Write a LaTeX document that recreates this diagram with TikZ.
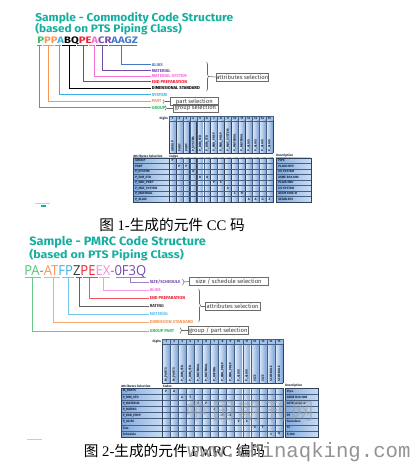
\documentclass[tikz,border=0pt]{standalone}
\usepackage{fontspec}
\setmainfont{Liberation Serif}
\newfontfamily\ttlfont{Fira Sans}
\newfontfamily\codetwofont{Open Sans}
\newfontfamily\cjk{Noto Sans CJK SC}
\newfontfamily\wmfont{Liberation Mono}
\usetikzlibrary{decorations.pathreplacing}
\definecolor{cteal}{RGB}{22,174,160}
\definecolor{cgreen}{RGB}{52,185,100}
\definecolor{corange}{RGB}{245,150,85}
\definecolor{clblue}{RGB}{60,175,230}
\definecolor{cred}{RGB}{238,30,50}
\definecolor{cpink}{RGB}{245,110,215}
\definecolor{cpurple}{RGB}{115,75,175}
\definecolor{cblue}{RGB}{70,120,200}
\definecolor{cdark}{RGB}{60,60,60}
\definecolor{cL}{RGB}{228,238,250}
\definecolor{cR}{RGB}{118,160,215}
\definecolor{rL}{RGB}{130,170,222}
\definecolor{rR}{RGB}{200,220,243}
\definecolor{hdr}{RGB}{160,195,235}
\definecolor{gridc}{RGB}{70,95,130}
\definecolor{tabtxt}{RGB}{25,40,65}
\newcommand\mylabfont{\fontsize{3.2}{3.6}\selectfont\ttlfont\bfseries}
\newcommand\myboxfont{\fontsize{4.4}{5}\selectfont\ttlfont}
\newcommand\mytabfont{\fontsize{2.4}{2.8}\selectfont\ttlfont\bfseries}
\begin{document}
\begin{tikzpicture}[x=0.75pt,y=-0.75pt,
  lab/.style={anchor=west,inner sep=0.4pt,font=\mylabfont},
  selbox/.style={draw=gray!85!black,line width=0.45pt,inner sep=0pt,minimum height=6pt,text=cdark,font=\myboxfont,anchor=west},
  connA/.style={line width=0.75pt},
  connB/.style={line width=0.5pt},
  brc/.style={decorate,decoration={brace,amplitude=1.5pt},draw=gray!80!black,line width=0.4pt},
  tie/.style={draw=gray!80!black,line width=0.4pt},
  tt/.style={font=\mytabfont,inner sep=0pt,text=tabtxt},
  grid/.style={draw=gridc,line width=0.25pt},
  gridk/.style={draw=gridc!70!black,line width=0.5pt}]
\useasboundingbox (0,0) rectangle (415,470);
\fill[white] (0,0) rectangle (415,470);

%================ PART 1 =================
\node[anchor=base west,inner sep=0pt,text=cteal] (t1a) at (35,21.3)
  {\resizebox{148.5pt}{6.9pt}{\ttlfont\bfseries Sample - Commodity Code Structure}};
\node[anchor=base west,inner sep=0pt,text=cteal] (t1b) at (35,32.5)
  {\resizebox{110pt}{7.0pt}{\ttlfont\bfseries (based on PTS Piping Class)}};
\node[anchor=base west,inner sep=0pt] (code1) at (37,44)
  {\resizebox{75.5pt}{5pt}{\ttlfont\bfseries\textcolor{cgreen}{P}\textcolor{corange}{PP}\textcolor{clblue}{A}\textcolor{black}{BQ}\textcolor{cred}{PE}\textcolor{cpink}{A}\textcolor{cpurple}{CR}\textcolor{cblue}{AAGZ}}};
% underlines
\draw[cgreen,line width=0.4pt] (37,45.5) -- (42,45.5);
\draw[corange,line width=0.4pt] (43,45.5) -- (54,45.5);
\draw[clblue,line width=0.4pt] (55,45.5) -- (61,45.5);
\draw[black,line width=0.4pt] (62,45.5) -- (76,45.5);
\draw[cred,line width=0.4pt] (77,45.5) -- (88,45.5);
\draw[cpink,line width=0.4pt] (89,45.5) -- (95,45.5);
\draw[cpurple,line width=0.4pt] (96,45.5) -- (108,45.5);
\draw[cblue,line width=0.4pt] (109,45.5) -- (137,45.5);
% start coordinates
\coordinate (s1) at (121,45.5);
\coordinate (s2) at (102,45.5);
\coordinate (s3) at (94,45.5);
\coordinate (s4) at (83,45.5);
\coordinate (s5) at (69,45.5);
\coordinate (s6) at (59,45.5);
\coordinate (s7) at (48,45.5);
\coordinate (s8) at (39,45.5);
% labels
\node[lab,text=cblue] (l1) at (151,65) {ALIAS};
\node[lab,text=cpurple] (l2) at (151,71) {MATERIAL};
\node[lab,text=cpink] (l3) at (151,76.5) {MATERIAL SYSTEM};
\node[lab,text=cred] (l4) at (151,82) {END PREPARATION};
\node[lab,text=black] (l5) at (151,88.5) {DIMENSIONAL STANDARD};
\node[lab,text=clblue] (l6) at (151,95) {SYSTEM};
\node[lab,text=corange] (l7) at (151,101.5) {PART};
\node[lab,text=cgreen] (l8) at (151,108) {GROUP};
\draw[connA,cblue] (s1) |- (l1.west);
\draw[connA,cpurple] (s2) |- (l2.west);
\draw[connA,cpink] (s3) |- (l3.west);
\draw[connA,cred] (s4) |- (l4.west);
\draw[connA,black] (s5) |- (l5.west);
\draw[connA,clblue] (s6) |- (l6.west);
\draw[connA,corange] (s7) |- (l7.west);
\draw[connA,cgreen] (s8) |- (l8.west);
% selections
\node[selbox,minimum width=39pt] (b1) at (216,77) {attributes selection};
\draw[brc] (206.5,62) -- (206.5,91);
\coordinate (bt1) at (208.5,76.5);
\draw[tie] (bt1) -- (b1.west);
\node[selbox,minimum width=36pt] (b2) at (170,101.5) {part selection};
\draw[brc,decoration={brace,amplitude=1pt}] (163,99.5) -- (163,103.5);
\coordinate (bt2) at (164.5,101.5);
\draw[tie] (bt2) -- (b2.west);
\node[selbox,minimum width=34pt] (b3) at (172.5,108.3) {group selection};
\draw[brc,decoration={brace,amplitude=1pt}] (165,105.5) -- (165,110.5);
\coordinate (bt3) at (166.5,108.3);
\draw[tie] (bt3) -- (b3.west);

% table 1
\begin{scope}
\def\Xo{169}\def\Wc{6.933}
\foreach \i in {1,...,15}{
  \pgfmathsetmacro\xa{\Xo+(\i-1)*\Wc}
  \pgfmathsetmacro\xb{\Xo+\i*\Wc}
  \fill[hdr] (\xa,116) rectangle (\xb,121);
  \shade[left color=cL,right color=cR] (\xa,121) rectangle (\xb,153);
  \shade[left color=cL,right color=cR] (\xa,158) rectangle (\xb,202);
  \node[tt] at ({(\xa+\xb)/2},118.6) {\i};
}
\shade[left color=rL,right color=rR] (133,158) rectangle (169,202);
\shade[left color=rL,right color=rR] (276,158) rectangle (311,202);
\foreach \i in {0,...,15}{
  \draw[grid] ({\Xo+\i*\Wc},116) -- ({\Xo+\i*\Wc},153);
  \draw[grid] ({\Xo+\i*\Wc},158) -- ({\Xo+\i*\Wc},202);
}
\foreach \i in {0,1,3,4,6,8,9,11,15}{
  \draw[gridk] ({\Xo+\i*\Wc},121) -- ({\Xo+\i*\Wc},153);
  \draw[gridk] ({\Xo+\i*\Wc},158) -- ({\Xo+\i*\Wc},202);
}
\draw[grid] (169,116) -- (273,116) (169,121) -- (273,121);
\draw[gridk] (169,153) -- (273,153);
\foreach \k in {0,...,8}{
  \draw[grid] (133,{158+\k*5.5}) -- (273,{158+\k*5.5});
  \draw[grid] (276,{158+\k*5.5}) -- (311,{158+\k*5.5});
}
\draw[gridk] (133,158) rectangle (273,202);
\draw[gridk] (276,158) rectangle (311,202);
\draw[gridk] (169,158) -- (169,202);
\node[tt,anchor=east] (dg1) at (168.3,118.6) {Digits};
\node[tt,anchor=south west] (as1) at (133,157.6) {Attributes Selection};
\node[tt,anchor=south west] (cd1) at (169,157.6) {Codes};
\node[tt,anchor=south west] (ds1) at (276,157.6) {Description};
\foreach \i/\t in {1/GROUP,2/PART,3/PART,4/P\_SYSTEM,5/P\_DIM\_STD,6/P\_DIM\_STD,7/P\_END\_PREP,8/P\_END\_PREP,9/P\_MAT\_SYSTEM,10/P\_MATERIAL,11/P\_MATERIAL,12/P\_ALIAS,13/P\_ALIAS,14/P\_ALIAS,15/P\_ALIAS}{
  \node[tt,rotate=90,anchor=west] at ({\Xo+(\i-0.5)*\Wc},151.5) {\t};
}
\foreach \k/\t in {1/GROUP,2/PART,3/P\_SYSTEM,4/P\_DIM\_STD,5/P\_END\_PREP,6/P\_MAT\_SYSTEM,7/P\_MATERIAL,8/P\_ALIAS}{
  \node[tt,anchor=west] at (135,{158+(\k-0.5)*5.5}) {\t};
}
\foreach \k/\t in {1/PIPE,2/PLAIN PIPE,3/US SYSTEM,4/ASME B36.10M,5/PLAIN END,6/US SYSTEM,7/ASTM A106-B,8/SEAMLESS}{
  \node[tt,anchor=west] at (278,{158+(\k-0.5)*5.5}) {\t};
}
\foreach \c/\r/\t in {1/1/P,2/2/P,3/2/P,4/3/A,5/4/B,6/4/Q,7/5/P,8/5/E,9/6/A,10/7/C,11/7/R,12/8/A,13/8/A,14/8/G,15/8/Z}{
  \node[tt] at ({\Xo+(\c-0.5)*\Wc},{158+(\r-0.5)*5.5}) {\t};
}
\end{scope}
\draw[gray!40,line width=0.4pt] (35,203) -- (50,203);
\draw[cteal,line width=0.9pt] (41,206) -- (46,206);

\node[inner sep=0pt] (cap1) at (172,225)
  {\fontsize{11}{13}\selectfont{\cjk 图} 1-{\cjk 生成的元件} CC {\cjk 码}};

%================ PART 2 =================
\node[anchor=base west,inner sep=0pt,text=cteal] (t2a) at (29,245.5)
  {\resizebox{132.5pt}{6.9pt}{\ttlfont\bfseries Sample - PMRC Code Structure}};
\node[anchor=base west,inner sep=0pt,text=cteal] (t2b) at (29,258.5)
  {\resizebox{116pt}{7.0pt}{\ttlfont\bfseries (based on PTS Piping Class)}};
\node[anchor=base west,inner sep=0pt] (code2) at (24,275.8)
  {\resizebox{91.5pt}{7.5pt}{\codetwofont\textcolor{cgreen!85}{PA}\textcolor{gray}{-}\textcolor{corange}{AT}\textcolor{clblue}{FP}\textcolor{cdark}{Z}\textcolor{cred}{PE}\textcolor{cpink!80}{EX}\textcolor{gray}{-}\textcolor{cpurple}{0F3Q}}};
\draw[cgreen!70,line width=0.5pt] (25,277.5) -- (41,277.5);
\draw[corange!80,line width=0.5pt] (44,277.5) -- (60,277.5);
\draw[clblue!70,line width=0.5pt] (62,277.5) -- (74,277.5);
\draw[cdark!80,line width=0.5pt] (76,277.5) -- (82,277.5);
\draw[cred!80,line width=0.5pt] (83,277.5) -- (98,277.5);
\draw[cpink!70,line width=0.5pt] (99,277.5) -- (110,277.5);
\draw[cpurple!70,line width=0.5pt] (116,277.5) -- (146,277.5);
\coordinate (u1) at (130,277.5);
\coordinate (u2) at (103,277.5);
\coordinate (u3) at (89,277.5);
\coordinate (u4) at (79,277.5);
\coordinate (u5) at (68,277.5);
\coordinate (u6) at (53,277.5);
\coordinate (u7) at (32,277.5);
\node[lab,text=cpurple] (m1) at (149,282) {SIZE/SCHEDULE};
\node[lab,text=cpink] (m2) at (149,290.5) {ALIAS};
\node[lab,text=cred] (m3) at (149,298) {END PREPARATION};
\node[lab,text=cdark] (m4) at (149,306) {RATING};
\node[lab,text=clblue!80] (m5) at (149,314) {MATERIAL};
\node[lab,text=corange] (m6) at (149,322.5) {DIMENSION STANDARD};
\node[lab,text=cgreen] (m7) at (149,331) {GROUP PART};
\draw[connB,cpurple!70] (u1) |- (m1.west);
\draw[connB,cpink!70] (u2) |- (m2.west);
\draw[connB,cred!75] (u3) |- (m3.west);
\draw[connB,cdark!80] (u4) |- (m4.west);
\draw[connB,clblue!70] (u5) |- (m5.west);
\draw[connB,corange!80] (u6) |- (m6.west);
\draw[connB,cgreen!75] (u7) |- (m7.west);
\node[selbox,minimum width=59pt] (c1) at (189,281.5) {size / schedule selection};
\draw[brc,decoration={brace,amplitude=1.2pt}] (182.5,279) -- (182.5,285);
\coordinate (ct1) at (184,282);
\draw[tie] (ct1) -- (c1.west);
\node[selbox,minimum width=41pt] (c2) at (205,306) {attributes selection};
\draw[brc] (198.5,289) -- (198.5,322);
\coordinate (ct2) at (200.5,306);
\draw[tie] (ct2) -- (c2.west);
\node[selbox,minimum width=45pt] (c3) at (188,330.5) {group / part selection};
\draw[brc,decoration={brace,amplitude=1.2pt}] (180,327.5) -- (180,333.5);
\coordinate (ct3) at (181.5,330.5);
\draw[tie] (ct3) -- (c3.west);

% table 2
\begin{scope}
\def\Xo{162}\def\Wc{8.067}\def\Rh{6.125}
\foreach \i in {1,...,15}{
  \pgfmathsetmacro\xa{\Xo+(\i-1)*\Wc}
  \pgfmathsetmacro\xb{\Xo+\i*\Wc}
  \fill[hdr] (\xa,339) rectangle (\xb,344);
  \shade[left color=cL,right color=cR] (\xa,344) rectangle (\xb,383);
  \shade[left color=cL,right color=cR] (\xa,388) rectangle (\xb,437);
  \node[tt] at ({(\xa+\xb)/2},341.6) {\i};
}
\shade[left color=rL,right color=rR] (121,388) rectangle (162,437);
\shade[left color=rL,right color=rR] (285,388) rectangle (318,437);
\foreach \i in {0,...,15}{
  \draw[grid] ({\Xo+\i*\Wc},339) -- ({\Xo+\i*\Wc},383);
  \draw[grid] ({\Xo+\i*\Wc},388) -- ({\Xo+\i*\Wc},437);
}
\draw[grid] (162,339) -- (283,339) (162,344) -- (283,344);
\draw[gridk] (162,383) -- (283,383);
\foreach \k in {0,...,8}{
  \draw[grid] (121,{388+\k*\Rh}) -- (283,{388+\k*\Rh});
  \draw[grid] (285,{388+\k*\Rh}) -- (318,{388+\k*\Rh});
}
\draw[gridk] (121,388) rectangle (283,437);
\draw[gridk] (285,388) rectangle (318,437);
\draw[gridk] (162,388) -- (162,437);
\draw[gridk] (162,344) -- (162,383) (283,344) -- (283,383);
\node[tt,anchor=east] (dg2) at (161.3,341.6) {Digits};
\node[tt,anchor=south west] (as2) at (121,387.6) {Attributes Selection};
\node[tt,anchor=south west] (cd2) at (162.5,387.6) {Codes};
\node[tt,anchor=south west] (ds2) at (285,387.6) {Description};
\foreach \i/\t in {1/M\_PARTS,2/M\_PARTS,3/P\_DIM\_STD,4/P\_DIM\_STD,5/P\_MATERIAL,6/P\_MATERIAL,7/P\_RATING,8/P\_END\_PREP,9/P\_END\_PREP,10/P\_ALIAS,11/P\_ALIAS,12/SIZE,13/SIZE,14/SCHEDULE,15/SCHEDULE}{
  \node[tt,rotate=90,anchor=west] at ({\Xo+(\i-0.5)*\Wc},381.5) {\t};
}
\foreach \k/\t in {1/M\_PARTS,2/P\_DIM\_STD,3/P\_MATERIAL,4/P\_RATING,5/P\_END\_PREP,6/P\_ALIAS,7/Size,8/Schedule}{
  \node[tt,anchor=west] at (122.5,{388+(\k-0.5)*\Rh}) {\t};
}
\foreach \k/\t in {1/Pipe,2/ASME B36.10M,3/ASTM A106-B,5/PE,6/Seamless,7/15,8/S-160}{
  \node[tt,anchor=west] at (286.5,{388+(\k-0.5)*\Rh}) {\t};
}
\foreach \c/\r/\t in {1/1/P,2/1/A,3/2/A,4/2/T,5/3/F,6/3/P,7/4/Z,8/5/P,9/5/E,10/6/E,11/6/X,12/7/0,13/7/F,14/8/3,15/8/Q}{
  \node[tt] at ({\Xo+(\c-0.5)*\Wc},{388+(\r-0.5)*\Rh}) {\t};
}
\end{scope}
\node[text=gray!75,opacity=0.6,inner sep=0pt] (wm1) at (250,411)
  {\fontsize{17}{18}\selectfont\cjk 中\,国\,期\,刊\,网};
\draw[gray!40,line width=0.4pt] (27,439) -- (42,439);

\node[inner sep=0pt] (cap2) at (174.5,451)
  {\fontsize{11}{13}\selectfont{\cjk 图} 2-{\cjk 生成的元件} PMRC {\cjk 编码}};
\node[anchor=base west,inner sep=0pt,text=gray!85] (wm2) at (187,457)
  {\fontsize{15.5}{16}\selectfont\wmfont www.chinaqking.com};
\end{tikzpicture}
\end{document}
